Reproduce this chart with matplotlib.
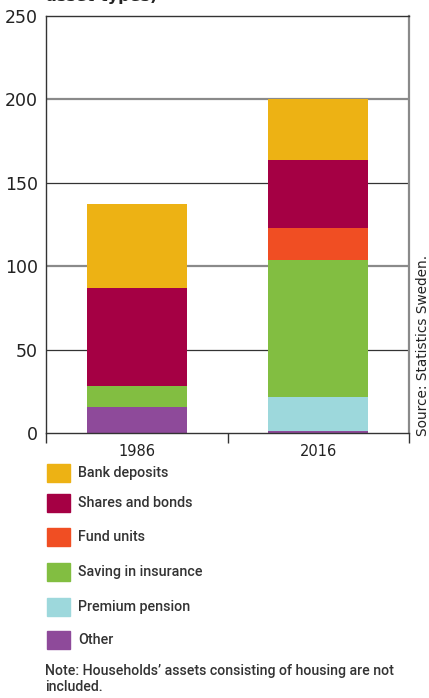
import numpy as np
import matplotlib
matplotlib.use('Agg')
import matplotlib.pyplot as plt
from matplotlib.patches import Rectangle

# Household financial assets by type, SEK thousand per person
years = ['1986', '2016']
categories = ['Other', 'Premium pension', 'Saving in insurance', 'Fund units',
              'Shares and bonds', 'Bank deposits']
other = [15.4, 1.4]
premium_pension = [0, 20.4]
insurance = [12.6, 82.2]
fund_units = [0, 19.0]
shares_bonds = [59.2, 40.6]
bank_deposits = [50.3, 36.8]
colors = ['#8E4A9A', '#9DD8DC', '#82BE41', '#F04E23', '#A50044', '#EDB214']

series = [other, premium_pension, insurance, fund_units, shares_bonds, bank_deposits]

fig = plt.figure(figsize=(4.29, 6.98), dpi=100)
W, H = 429, 698
ax = fig.add_axes([46 / W, 265 / H, 363 / W, 417 / H])

x = np.arange(len(years))
bottom = np.zeros(len(years))
for vals, col in zip(series, colors):
    ax.bar(x, vals, width=0.55, bottom=bottom, color=col, zorder=3)
    bottom += np.array(vals)

ax.set_xlim(-0.5, 1.5)
ax.set_ylim(0, 250)
ax.set_yticks([0, 50, 100, 150, 200, 250])
ax.set_xticks(x)
ax.set_xticklabels(years)
ax.set_xticks([-0.5, 0.5, 1.5], minor=True)
ax.tick_params(axis='x', which='major', length=0, pad=8, labelsize=10.5, labelcolor='#222222')
ax.tick_params(axis='x', which='minor', length=7, width=1, color='#333333', direction='out')
ax.tick_params(axis='y', length=0, pad=6, labelsize=12.5, labelcolor='#222222')

# horizontal grid lines
for yv in [50, 150]:
    ax.axhline(yv, color='#333333', lw=0.9, zorder=1)
for yv in [100, 200]:
    ax.axhline(yv, color='#8a8a8a', lw=1.6, zorder=1)

for side in ['left', 'top', 'bottom']:
    ax.spines[side].set_color('#333333')
    ax.spines[side].set_linewidth(1.0)
ax.spines['right'].set_color('#8a8a8a')
ax.spines['right'].set_linewidth(1.6)
ax.spines['bottom'].set_zorder(4)

# last line of the title, running off the top edge
fig.text(46 / W, 1 - 1.5 / H, 'asset types)', fontsize=11.5, fontweight='bold',
         color='#222222', va='baseline', ha='left')

# source note on the right side
fig.text(423 / W, 1 - 345 / H, 'Source: Statistics Sweden.', rotation=90,
         fontsize=9.8, color='#222222', ha='center', va='center')

# legend drawn by hand
legend_labels = ['Bank deposits', 'Shares and bonds', 'Fund units',
                 'Saving in insurance', 'Premium pension', 'Other']
legend_colors = ['#EDB214', '#A50044', '#F04E23', '#82BE41', '#9DD8DC', '#8E4A9A']
legend_y = [473, 503, 537, 572, 607, 640]
for lab, col, yc in zip(legend_labels, legend_colors, legend_y):
    fig.patches.append(Rectangle((47 / W, 1 - (yc + 9) / H), 23 / W, 18 / H,
                                 transform=fig.transFigure, color=col))
    fig.text(78 / W, 1 - yc / H, lab, fontsize=10.3, fontweight='medium',
             family='Roboto', color='#333333', va='center', ha='left')

fig.text(45 / W, 1 - 671 / H, 'Note: Households\u2019 assets consisting of housing are not',
         fontsize=10.2, fontweight='medium', family='Roboto', color='#333333',
         va='center', ha='left')
fig.text(45 / W, 1 - 687 / H, 'included.', fontsize=10.2, fontweight='medium',
         family='Roboto', color='#333333', va='center', ha='left')

fig.savefig('out.png', dpi=100)
